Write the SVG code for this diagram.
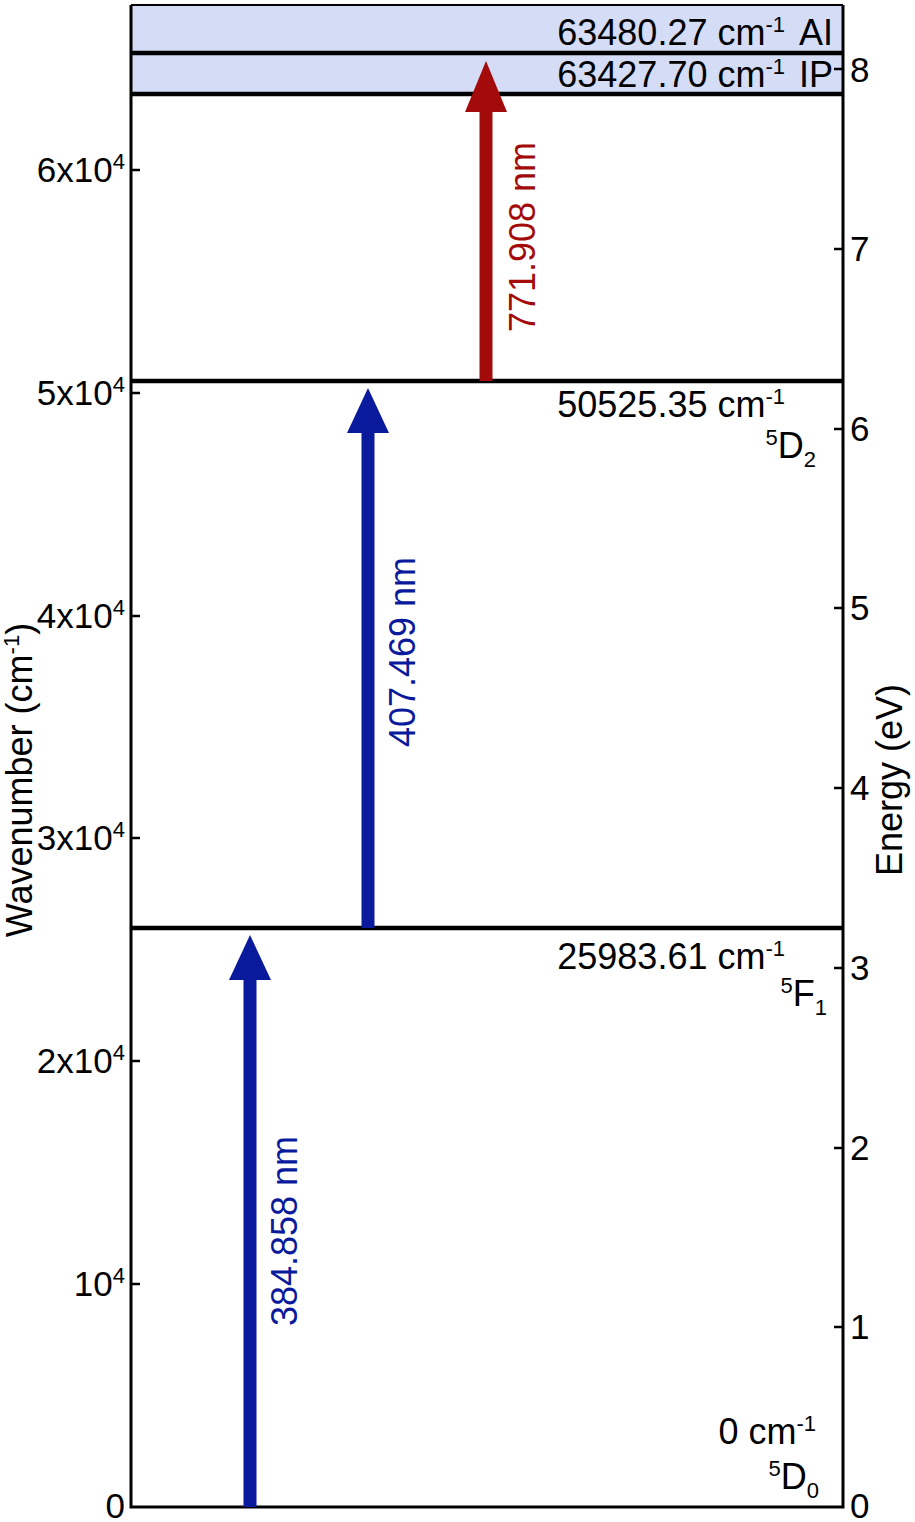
<svg xmlns="http://www.w3.org/2000/svg" width="915" height="1522" viewBox="0 0 915 1522">
<style>
text{font-family:"Liberation Sans",Arial,sans-serif;fill:#000}
.t{font-size:35px}
.l{font-size:36px}
.sup{font-size:22px}
.ax{stroke:#000;stroke-width:3;fill:none}
.tick{stroke:#000;stroke-width:2.5}
.lev{stroke:#000;stroke-width:4.5}
.blue{fill:#0a1a9c}
.red{fill:#a30a0a}
.bt{fill:#0a1a9c;font-size:36px}
.rt{fill:#a30a0a;font-size:36px}
</style>
<rect width="915" height="1522" fill="#fff"/>
<g id="bands">
<rect x="131" y="5" width="712" height="48" fill="#d5dcf6"/>
<rect x="131" y="55" width="712" height="39" fill="#d5dcf6"/>
</g>
<g id="axes">
<line class="tick" x1="131" y1="1284" x2="140" y2="1284"/>
<line class="tick" x1="131" y1="1061" x2="140" y2="1061"/>
<line class="tick" x1="131" y1="838" x2="140" y2="838"/>
<line class="tick" x1="131" y1="616" x2="140" y2="616"/>
<line class="tick" x1="131" y1="393" x2="140" y2="393"/>
<line class="tick" x1="131" y1="170" x2="140" y2="170"/>
<line class="tick" x1="834" y1="1327" x2="843" y2="1327"/>
<line class="tick" x1="834" y1="1148" x2="843" y2="1148"/>
<line class="tick" x1="834" y1="968" x2="843" y2="968"/>
<line class="tick" x1="834" y1="788" x2="843" y2="788"/>
<line class="tick" x1="834" y1="608" x2="843" y2="608"/>
<line class="tick" x1="834" y1="429" x2="843" y2="429"/>
<line class="tick" x1="834" y1="249" x2="843" y2="249"/>
<line class="tick" x1="834" y1="69" x2="843" y2="69"/>
<polyline class="ax" points="131,5 131,1507 843,1507 843,5"/>
<line x1="131" y1="5" x2="843" y2="5" stroke="#000" stroke-width="2"/>
<g class="t" text-anchor="end">
<text x="125" y="1518">0</text>
<text x="125" y="1296">10<tspan class="sup" dy="-13">4</tspan></text>
<text x="125" y="1073">2x10<tspan class="sup" dy="-13">4</tspan></text>
<text x="125" y="850">3x10<tspan class="sup" dy="-13">4</tspan></text>
<text x="125" y="628">4x10<tspan class="sup" dy="-13">4</tspan></text>
<text x="125" y="405">5x10<tspan class="sup" dy="-13">4</tspan></text>
<text x="125" y="182">6x10<tspan class="sup" dy="-13">4</tspan></text>
</g>
<g class="t">
<text x="850" y="1518">0</text>
<text x="850" y="1339">1</text>
<text x="850" y="1160">2</text>
<text x="850" y="980">3</text>
<text x="850" y="800">4</text>
<text x="850" y="620">5</text>
<text x="850" y="441">6</text>
<text x="850" y="261">7</text>
<text x="850" y="82">8</text>
</g>
<text class="l" text-anchor="middle" transform="translate(32,780) rotate(-90)">Wavenumber (cm<tspan class="sup" dy="-13">-1</tspan><tspan dy="13">)</tspan></text>
<text class="l" text-anchor="middle" transform="translate(902,780) rotate(-90)">Energy (eV)</text>
</g>
<g id="level-AI">
<line class="lev" x1="131" y1="53" x2="843" y2="53"/>
<text class="l" x="785" y="45" text-anchor="end">63480.27 cm<tspan class="sup" dy="-13">-1</tspan></text>
<text class="l" x="799" y="45">AI</text>
</g>
<g id="level-IP">
<line class="lev" x1="131" y1="94" x2="843" y2="94"/>
<text class="l" x="785" y="87" text-anchor="end">63427.70 cm<tspan class="sup" dy="-13">-1</tspan></text>
<text class="l" x="799" y="87">IP</text>
</g>
<g id="level-5D2">
<line class="lev" x1="131" y1="381" x2="843" y2="381"/>
<text class="l" x="785" y="417" text-anchor="end">50525.35 cm<tspan class="sup" dy="-13">-1</tspan></text>
<text class="l" x="816" y="458" text-anchor="end"><tspan class="sup" dy="-13">5</tspan><tspan dy="13">D</tspan><tspan class="sup" dy="9">2</tspan></text>
</g>
<g id="level-5F1">
<line class="lev" x1="131" y1="928" x2="843" y2="928"/>
<text class="l" x="785" y="969" text-anchor="end">25983.61 cm<tspan class="sup" dy="-13">-1</tspan></text>
<text class="l" x="827" y="1006" text-anchor="end"><tspan class="sup" dy="-13">5</tspan><tspan dy="13">F</tspan><tspan class="sup" dy="9">1</tspan></text>
</g>
<g id="level-5D0">
<text class="l" x="816" y="1444" text-anchor="end">0 cm<tspan class="sup" dy="-13">-1</tspan></text>
<text class="l" x="819" y="1489" text-anchor="end"><tspan class="sup" dy="-13">5</tspan><tspan dy="13">D</tspan><tspan class="sup" dy="9">0</tspan></text>
</g>
<g id="connectors">
<rect class="blue" x="243.5" y="975" width="13" height="532"/>
<polygon class="blue" points="250,935 229,980 271,980"/>
<rect class="blue" x="361.5" y="428" width="13" height="500"/>
<polygon class="blue" points="368,388 347,433 389,433"/>
<rect class="red" x="479.5" y="107" width="13" height="274"/>
<polygon class="red" points="486,61 465,112 507,112"/>
<text class="bt" text-anchor="middle" transform="translate(297,1231) rotate(-90)">384.858 nm</text>
<text class="bt" text-anchor="middle" transform="translate(415,652) rotate(-90)">407.469 nm</text>
<text class="rt" text-anchor="middle" transform="translate(535,237) rotate(-90)">771.908 nm</text>
</g>
</svg>
